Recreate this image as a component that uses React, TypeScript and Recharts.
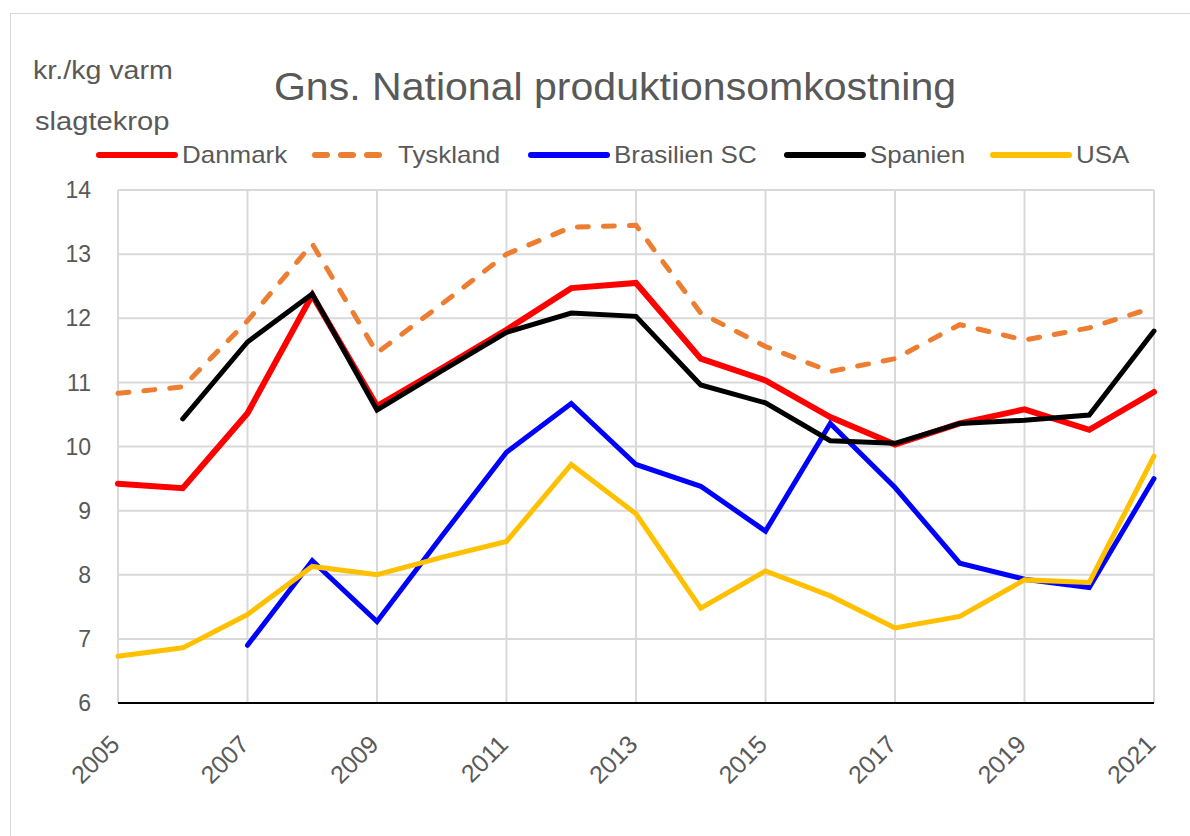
import { LineChart, Line, XAxis, YAxis, CartesianGrid } from 'recharts';

const years = [2005, 2006, 2007, 2008, 2009, 2010, 2011, 2012, 2013, 2014, 2015, 2016, 2017, 2018, 2019, 2020, 2021];
const danmark = [9.42, 9.35, 10.52, 12.36, 10.63, 11.22, 11.82, 12.47, 12.55, 11.37, 11.03, 10.46, 10.03, 10.36, 10.58, 10.26, 10.85];
const tyskland = [10.83, 10.93, 11.96, 13.16, 11.46, 12.22, 13.0, 13.42, 13.45, 12.08, 11.56, 11.17, 11.37, 11.9, 11.66, 11.85, 12.17];
const brasilien = [null, null, 6.9, 8.22, 7.27, 8.6, 9.91, 10.67, 9.72, 9.38, 8.68, 10.36, 9.36, 8.18, 7.93, 7.8, 9.5];
const spanien = [null, 10.43, 11.63, 12.38, 10.57, 11.18, 11.78, 12.08, 12.03, 10.96, 10.68, 10.09, 10.05, 10.36, 10.41, 10.49, 11.8];
const usa = [6.73, 6.86, 7.38, 8.13, 8.0, 8.27, 8.52, 9.72, 8.95, 7.48, 8.06, 7.67, 7.17, 7.35, 7.92, 7.88, 9.85];

const xTicks = [2005, 2007, 2009, 2011, 2013, 2015, 2017, 2019, 2021];
const yTicks = [6, 7, 8, 9, 10, 11, 12, 13, 14];

const series = [
  { key: 'danmark', name: 'Danmark', color: '#FF0000', width: 6, dash: undefined },
  { key: 'tyskland', name: 'Tyskland', color: '#ED7D31', width: 5, dash: '11 15' },
  { key: 'brasilien', name: 'Brasilien SC', color: '#0000FF', width: 5, dash: undefined },
  { key: 'spanien', name: 'Spanien', color: '#000000', width: 5, dash: undefined },
  { key: 'usa', name: 'USA', color: '#FFC000', width: 5, dash: undefined },
];

const data = years.map((year, i) => ({
  year,
  danmark: danmark[i],
  tyskland: tyskland[i],
  brasilien: brasilien[i],
  spanien: spanien[i],
  usa: usa[i],
}));

const font = '"Liberation Sans", Arial, sans-serif';
const textColor = '#595959';

const legendPos = [96, 312, 528, 784, 990];

const XTick = (props: any) => {
  const { x, y, payload } = props;
  const ax = x + 3;
  const ay = y + 35;
  return (
    <text
      x={ax}
      y={ay}
      transform={`rotate(-45 ${ax} ${ay})`}
      textAnchor="end"
      fill={textColor}
      fontSize={25}
      fontFamily={font}
    >
      {payload.value}
    </text>
  );
};

const App = () => {
  return (
    <div style={{ position: 'absolute', left: 0, top: 0, width: 1190, height: 836, overflow: 'hidden', background: '#fff', fontFamily: font }}>
      <div style={{ position: 'absolute', left: 10, top: 13, width: 1300, height: 1000, border: '1px solid #d9d9d9' }} />
      <div style={{ position: 'absolute', left: 0, top: 0 }}>
        <LineChart width={1190} height={836} data={data} margin={{ top: 190, right: 36, bottom: 73, left: 58 }}>
          <CartesianGrid stroke="#d9d9d9" strokeWidth={2} />
          <XAxis
            dataKey="year"
            type="number"
            domain={[2005, 2021]}
            ticks={xTicks}
            height={60}
            tick={<XTick />}
            tickLine={false}
            axisLine={{ stroke: '#000', strokeWidth: 2 }}
            interval={0}
          />
          <YAxis
            domain={[6, 14]}
            ticks={yTicks}
            width={60}
            tickSize={0}
            tickMargin={27}
            axisLine={false}
            tickLine={false}
            tick={{ fill: textColor, fontSize: 23, fontFamily: font }}
            interval={0}
          />
          {series.map((s) => (
            <Line
              key={s.key}
              dataKey={s.key}
              name={s.name}
              stroke={s.color}
              strokeWidth={s.width}
              strokeDasharray={s.dash}
              strokeLinecap="round"
              dot={false}
              activeDot={false}
              isAnimationActive={false}
            />
          ))}
        </LineChart>
      </div>
      <div style={{ position: 'absolute', left: 0, width: 1230, top: 65, textAlign: 'center', fontSize: 38, color: textColor, lineHeight: '44px', transform: 'scaleX(1.08)', transformOrigin: '615px 0' }}>
        Gns. National produktionsomkostning
      </div>
      <div style={{ position: 'absolute', left: 33, top: 55, fontSize: 26, color: textColor, lineHeight: '30px', transform: 'scaleX(1.1)', transformOrigin: 'left', whiteSpace: 'nowrap' }}>kr./kg varm</div>
      <div style={{ position: 'absolute', left: 35, top: 106, fontSize: 26, color: textColor, lineHeight: '30px', transform: 'scaleX(1.12)', transformOrigin: 'left', whiteSpace: 'nowrap' }}>slagtekrop</div>
      {series.map((s, i) => (
        <div key={s.key} style={{ position: 'absolute', left: legendPos[i], top: 141, height: 28, display: 'flex', alignItems: 'center' }}>
          <svg width={82} height={12} style={{ display: 'block' }}>
            <line x1={3} y1={6} x2={79} y2={6} stroke={s.color} strokeWidth={6} strokeLinecap="round" strokeDasharray={s.dash ? '12 14' : undefined} />
          </svg>
          <span style={{ fontSize: 24, color: textColor, marginLeft: 4, lineHeight: '28px', whiteSpace: 'nowrap', display: 'inline-block', transform: 'scaleX(1.08)', transformOrigin: 'left' }}>{s.name}</span>
        </div>
      ))}
    </div>
  );
};

export default App;
